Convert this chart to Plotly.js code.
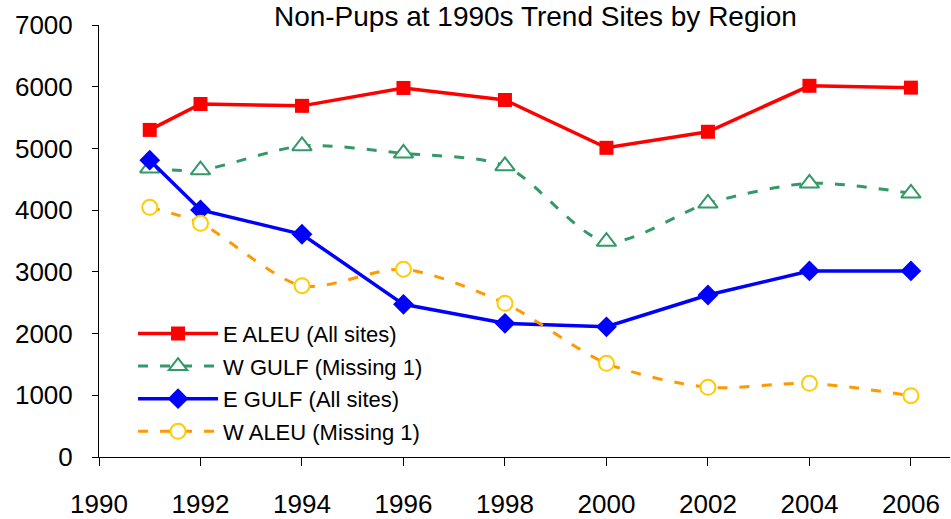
<!DOCTYPE html>
<html>
<head>
<meta charset="utf-8">
<script src="https://cdn.plot.ly/plotly-3.0.1.min.js"></script>
<style>html,body{margin:0;padding:0;background:#fff;}#chart{width:951px;height:519px;}</style>
</head>
<body>
<div id="chart"></div>
<script>
const years = [1991, 1992, 1994, 1996, 1998, 2000, 2002, 2004, 2006];
const eAleu = [5300, 5720, 5690, 5980, 5785, 5010, 5270, 6015, 5985];
const wGulf = [4680, 4650, 5040, 4920, 4716, 3490, 4110, 4435, 4273];
const eGulf = [4810, 4003, 3609, 2474, 2166, 2110, 2625, 3015, 3015];
const wAleu = [4046, 3787, 2776, 3042, 2490, 1518, 1129, 1194, 993];
const xTicks = [1990, 1992, 1994, 1996, 1998, 2000, 2002, 2004, 2006];
const yTicks = [0, 1000, 2000, 3000, 4000, 5000, 6000, 7000];
const names = ['E ALEU (All sites)', 'W GULF (Missing 1)', 'E GULF (All sites)', 'W ALEU (Missing 1)'];

const traces = [
  {x: years, y: eAleu, name: names[0], legendgroup: 'a', mode: 'lines+markers',
   line: {color: '#FF0000', width: 3.5},
   marker: {symbol: 'square', size: 14, color: '#FF0000'}},
  {x: years, y: wGulf, name: names[1], legendgroup: 'b', mode: 'lines+markers',
   line: {color: '#339966', width: 3, dash: '10px,12px', shape: 'spline', smoothing: 0.8},
   marker: {symbol: 'triangle-up', size: 17, color: '#FFFFFF', line: {width: 2, color: '#339966'}}},
  {x: years, y: eGulf, name: names[2], legendgroup: 'c', mode: 'lines+markers',
   line: {color: '#0000FF', width: 3.5},
   marker: {symbol: 'diamond', size: 16, color: '#0000FF'}},
  {x: years, y: wAleu, name: names[3], legendgroup: 'd', mode: 'lines+markers',
   line: {color: '#FF9900', width: 3, dash: '10px,12px', shape: 'spline', smoothing: 0.8},
   marker: {symbol: 'circle', size: 15, color: '#FFFFFF', line: {width: 2, color: '#FFCC00'}}}
];

const layout = {
  width: 951, height: 519,
  margin: {l: 99, r: 1, t: 25, b: 62},
  paper_bgcolor: '#fff', plot_bgcolor: '#fff',
  font: {family: 'Liberation Sans, Arial, sans-serif', color: '#000'},
  title: {text: 'Non-Pups at 1990s Trend Sites by Region', font: {size: 28, color: '#000'},
          x: 0.563, xanchor: 'center', y: 0.988, yanchor: 'top'},
  showlegend: true,
  legend: {x: 0.04, y: 0.01, xanchor: 'left', yanchor: 'bottom', bgcolor: 'rgba(0,0,0,0)',
           font: {size: 22, color: '#000'}, traceorder: 'grouped', tracegroupgap: 1, itemwidth: 80},
  xaxis: {range: [1990, 2006.77], tickvals: xTicks, ticktext: xTicks.map(String),
          showgrid: false, zeroline: false, showline: true, linecolor: '#000', linewidth: 1,
          ticks: 'outside', ticklen: 8, tickcolor: '#000', tickfont: {size: 26},
          ticklabelstandoff: 16},
  yaxis: {range: [0, 7000], tickvals: yTicks, showgrid: false, zeroline: false,
          showline: true, linecolor: '#000', linewidth: 1,
          ticks: 'outside', ticklen: 6, tickcolor: '#000', tickfont: {size: 26},
          ticklabelstandoff: 14}
};

Plotly.newPlot('chart', traces, layout, {displayModeBar: false, staticPlot: true});
</script>
</body>
</html>
